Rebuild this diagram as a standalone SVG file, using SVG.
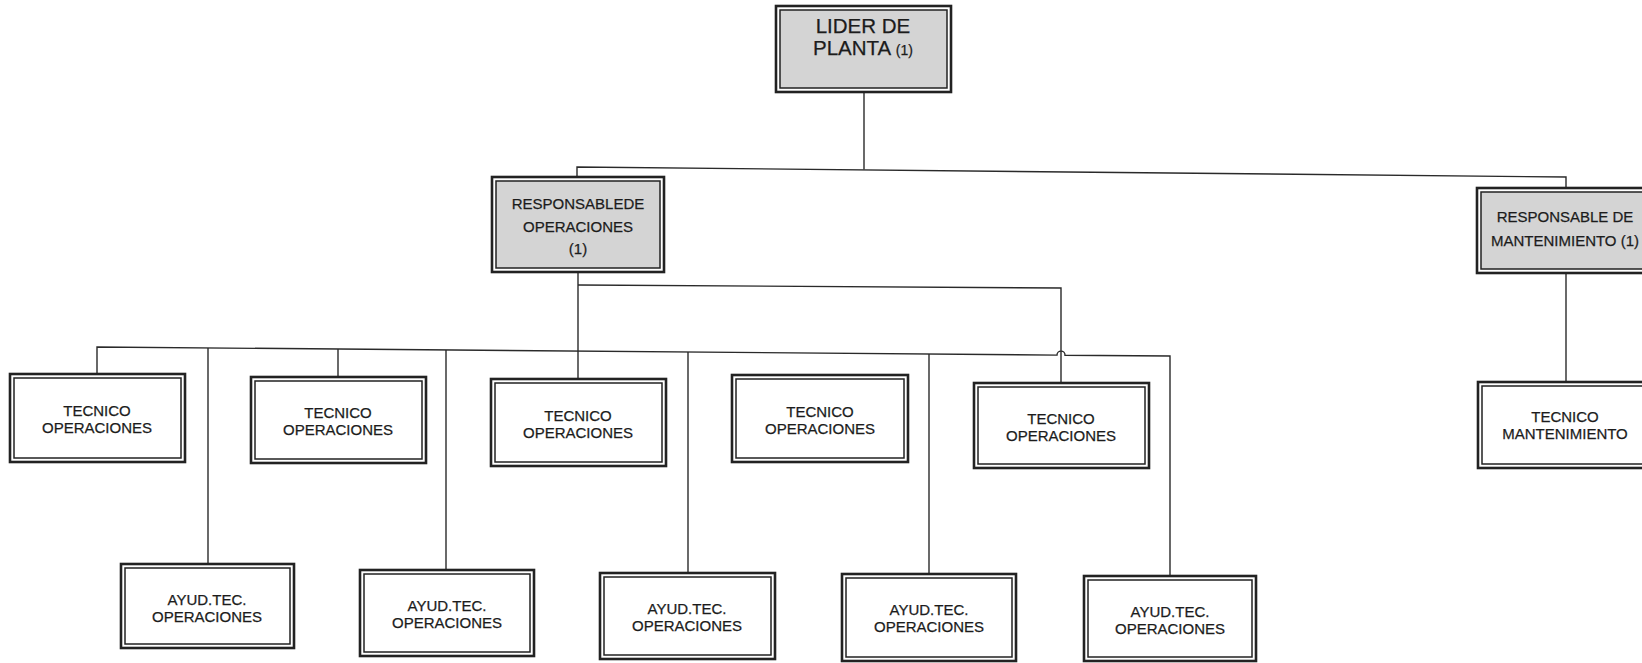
<svg xmlns="http://www.w3.org/2000/svg" width="1642" height="663" viewBox="0 0 1642 663">
<style>
.o{fill:#fff;stroke:#222;stroke-width:2.6}
.i{fill:none;stroke:#222;stroke-width:1.5}
.g .i{fill:#d4d4d4}
text{font-family:"Liberation Sans",Arial,sans-serif;font-size:15px;fill:#1c1c1c;stroke:#1c1c1c;stroke-width:0.25;text-anchor:middle}
.big{font-size:20.5px}
.sm{font-size:14px}
.c{fill:none;stroke:#2a2a2a;stroke-width:1.4}
</style>
<rect width="1642" height="663" fill="#fff"/>
<g id="connectors">
<path class="c" d="M864,92 V169.5"/>
<path class="c" d="M577,176 V167 L1566,177 V187"/>
<path class="c" d="M578,272 V378"/>
<path class="c" d="M578,285 L1061,288 V382"/>
<path class="c" d="M97,373 V347 L1057,355.1 A4,4 0 0 1 1065,355.2 L1170,356 V575"/>
<path class="c" d="M208,348 V563"/>
<path class="c" d="M338,349 V376"/>
<path class="c" d="M446,350 V569"/>
<path class="c" d="M688,352 V572"/>
<path class="c" d="M929,354 V573"/>
<path class="c" d="M1566,273 V381"/>
</g>
<g id="lider" class="g">
<rect class="o" x="776" y="6" width="175" height="86"/>
<rect class="i" x="780" y="10" width="167" height="78"/>
<text class="big" x="863" y="33">LIDER DE</text>
<text class="big" x="863" y="55">PLANTA <tspan class="sm">(1)</tspan></text>
</g>
<g id="resp-operaciones" class="g">
<rect class="o" x="492" y="177" width="172" height="95"/>
<rect class="i" x="496" y="181" width="164" height="87"/>
<text x="578" y="209">RESPONSABLEDE</text>
<text x="578" y="232">OPERACIONES</text>
<text x="578" y="254">(1)</text>
</g>
<g id="resp-mantenimiento" class="g">
<rect class="o" x="1477" y="188" width="180" height="85"/>
<rect class="i" x="1481" y="192" width="172" height="77"/>
<text x="1565" y="222">RESPONSABLE DE</text>
<text x="1565" y="246">MANTENIMIENTO (1)</text>
</g>
<g id="tecnico-op-1">
<rect class="o" x="10" y="374" width="175" height="88"/>
<rect class="i" x="14" y="378" width="167" height="80"/>
<text x="97" y="416">TECNICO</text>
<text x="97" y="433">OPERACIONES</text>
</g>
<g id="tecnico-op-2">
<rect class="o" x="251" y="377" width="175" height="86"/>
<rect class="i" x="255" y="381" width="167" height="78"/>
<text x="338" y="418">TECNICO</text>
<text x="338" y="435">OPERACIONES</text>
</g>
<g id="tecnico-op-3">
<rect class="o" x="491" y="379" width="175" height="87"/>
<rect class="i" x="495" y="383" width="167" height="79"/>
<text x="578" y="421">TECNICO</text>
<text x="578" y="438">OPERACIONES</text>
</g>
<g id="tecnico-op-4">
<rect class="o" x="732" y="375" width="176" height="87"/>
<rect class="i" x="736" y="379" width="168" height="79"/>
<text x="820" y="417">TECNICO</text>
<text x="820" y="434">OPERACIONES</text>
</g>
<g id="tecnico-op-5">
<rect class="o" x="974" y="383" width="175" height="85"/>
<rect class="i" x="978" y="387" width="167" height="77"/>
<text x="1061" y="424">TECNICO</text>
<text x="1061" y="441">OPERACIONES</text>
</g>
<g id="tecnico-mant">
<rect class="o" x="1478" y="382" width="180" height="86"/>
<rect class="i" x="1482" y="386" width="172" height="78"/>
<text x="1565" y="422">TECNICO</text>
<text x="1565" y="439">MANTENIMIENTO</text>
</g>
<g id="ayud-1">
<rect class="o" x="121" y="564" width="173" height="84"/>
<rect class="i" x="125" y="568" width="165" height="76"/>
<text x="207" y="605">AYUD.TEC.</text>
<text x="207" y="622">OPERACIONES</text>
</g>
<g id="ayud-2">
<rect class="o" x="360" y="570" width="174" height="86"/>
<rect class="i" x="364" y="574" width="166" height="78"/>
<text x="447" y="611">AYUD.TEC.</text>
<text x="447" y="628">OPERACIONES</text>
</g>
<g id="ayud-3">
<rect class="o" x="600" y="573" width="175" height="86"/>
<rect class="i" x="604" y="577" width="167" height="78"/>
<text x="687" y="614">AYUD.TEC.</text>
<text x="687" y="631">OPERACIONES</text>
</g>
<g id="ayud-4">
<rect class="o" x="842" y="574" width="174" height="87"/>
<rect class="i" x="846" y="578" width="166" height="79"/>
<text x="929" y="615">AYUD.TEC.</text>
<text x="929" y="632">OPERACIONES</text>
</g>
<g id="ayud-5">
<rect class="o" x="1084" y="576" width="172" height="85"/>
<rect class="i" x="1088" y="580" width="164" height="77"/>
<text x="1170" y="617">AYUD.TEC.</text>
<text x="1170" y="634">OPERACIONES</text>
</g>
</svg>
